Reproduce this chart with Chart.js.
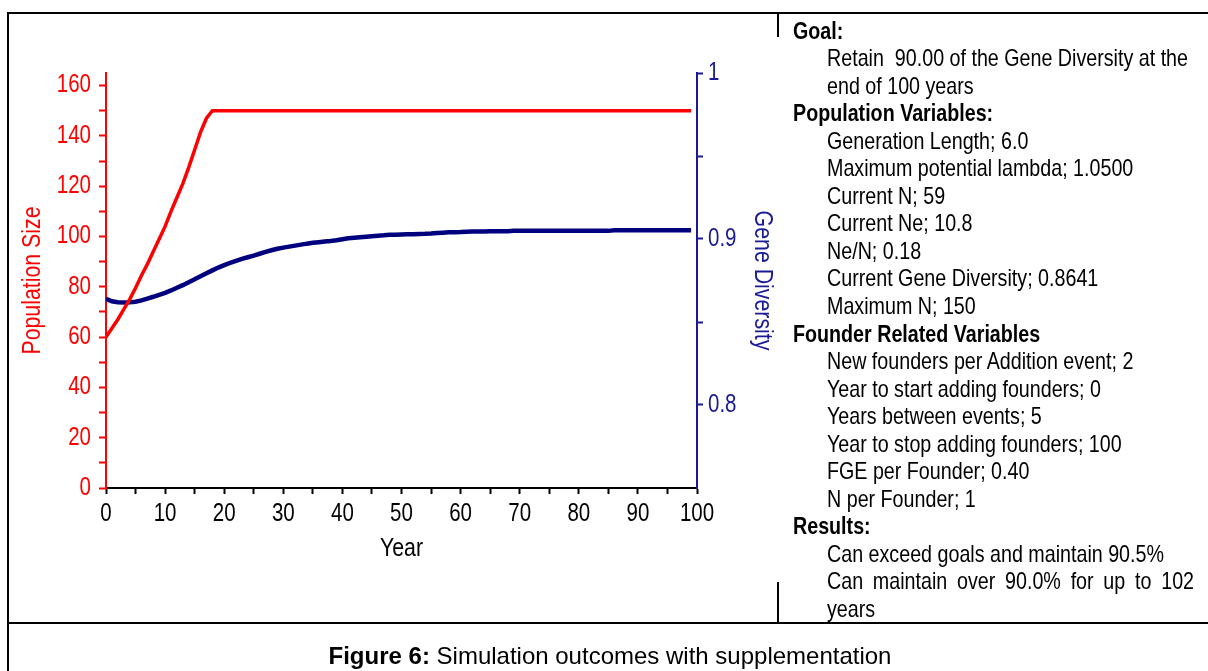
<!DOCTYPE html>
<html>
<head>
<meta charset="utf-8">
<script src="https://cdn.jsdelivr.net/npm/chart.js@4.4.1/dist/chart.umd.min.js"></script>
<style>
  html, body { margin: 0; padding: 0; background: #fff; }
  body { width: 1208px; height: 671px; position: relative; overflow: hidden;
         font-family: "Liberation Sans", Arial, sans-serif; color: #000; }
  .b { position: absolute; background: #000; }
  #chart { position: absolute; left: 0; top: 0; }
  .ln { position: absolute; font-size: 24px; line-height: 27.52px; white-space: nowrap;
        transform: scaleX(0.82); transform-origin: 0 0; }
  .h { left: 793px; font-weight: bold; }
  .i { left: 827px; }
  .j { width: 447.6px; text-align: justify; text-align-last: justify; white-space: normal; }
  #cap { position: absolute; left: 7px; width: 1206px; top: 642px; text-align: center; font-size: 24px; line-height: 27.52px; white-space: nowrap; }
</style>
</head>
<body>
<div class="b" style="left:7px;top:12px;width:1201px;height:2px"></div>
<div class="b" style="left:7px;top:12px;width:2px;height:659px"></div>
<div class="b" style="left:7px;top:622px;width:1201px;height:2px"></div>
<div class="b" style="left:777px;top:12px;width:2px;height:25px"></div>
<div class="b" style="left:777px;top:582px;width:2px;height:41px"></div>
<canvas id="chart" width="1208" height="671"></canvas>
<div id="panel"></div>
<div id="cap"><b>Figure 6:</b> Simulation outcomes with supplementation</div>
<script>
// ---- data ----
const years = [0,1,2,3,4,5,6,7,8,9,10,11,12,13,14,15,16,17,18,19,20,21,22,23,24,25,26,27,28,29,30,31,32,33,34,35,36,37,38,39,40,41,42,43,44,45,46,47,48,49,50,51,52,53,54,55,56,57,58,59,60,61,62,63,64,65,66,67,68,69,70,71,72,73,74,75,76,77,78,79,80,81,82,83,84,85,86,87,88,89,90,91,92,93,94,95,96,97,98,99];
const populationSize = [60,63.5,67,71,75,79.5,84.5,89,94,99,104,110,115.5,121,127.5,134.5,141.5,147,150,150,150,150,150,150,150,150,150,150,150,150,150,150,150,150,150,150,150,150,150,150,150,150,150,150,150,150,150,150,150,150,150,150,150,150,150,150,150,150,150,150,150,150,150,150,150,150,150,150,150,150,150,150,150,150,150,150,150,150,150,150,150,150,150,150,150,150,150,150,150,150,150,150,150,150,150,150,150,150,150,150];
const geneDiversity = [0.8640,0.8625,0.8619,0.8618,0.8619,0.8622,0.8630,0.8641,0.8652,0.8664,0.8676,0.8690,0.8706,0.8722,0.8740,0.8757,0.8775,0.8793,0.8811,0.8828,0.8843,0.8856,0.8868,0.8880,0.8890,0.8900,0.8911,0.8922,0.8932,0.8941,0.8948,0.8954,0.8960,0.8966,0.8972,0.8977,0.8981,0.8985,0.8988,0.8992,0.8998,0.9004,0.9008,0.9011,0.9014,0.9017,0.9020,0.9022,0.9025,0.9026,0.9027,0.9028,0.9029,0.9030,0.9031,0.9033,0.9036,0.9038,0.9040,0.9041,0.9042,0.9044,0.9045,0.9045,0.9045,0.9046,0.9046,0.9046,0.9046,0.9049,0.9049,0.9049,0.9049,0.9049,0.9049,0.9049,0.9049,0.9049,0.9049,0.9049,0.9049,0.9049,0.9049,0.9049,0.9049,0.9049,0.9053,0.9053,0.9053,0.9053,0.9053,0.9053,0.9053,0.9053,0.9053,0.9053,0.9053,0.9053,0.9053,0.9053];
const xTickLabels = [0,10,20,30,40,50,60,70,80,90,100];
const leftTickLabels = [0,20,40,60,80,100,120,140,160];
const rightTickLabels = ["0.8","0.9","1"];

const panelLines = [
  ["h","Goal:"],
  ["i","Retain&nbsp; 90.00 of the Gene Diversity at the"],
  ["i","end of 100 years"],
  ["h","Population Variables:"],
  ["i","Generation Length; 6.0"],
  ["i","Maximum potential lambda; 1.0500"],
  ["i","Current N; 59"],
  ["i","Current Ne; 10.8"],
  ["i","Ne/N; 0.18"],
  ["i","Current Gene Diversity; 0.8641"],
  ["i","Maximum N; 150"],
  ["h","Founder Related Variables"],
  ["i","New founders per Addition event; 2"],
  ["i","Year to start adding founders; 0"],
  ["i","Years between events; 5"],
  ["i","Year to stop adding founders; 100"],
  ["i","FGE per Founder; 0.40"],
  ["i","N per Founder; 1"],
  ["h","Results:"],
  ["i","Can exceed goals and maintain 90.5%"],
  ["i j","Can maintain over 90.0% for up to 102"],
  ["i","years"]
];

// ---- right text panel ----
const panel = document.getElementById('panel');
panelLines.forEach((l, k) => {
  const d = document.createElement('div');
  d.className = 'ln ' + l[0];
  d.style.top = (16.8 + 27.52 * k) + 'px';
  d.innerHTML = l[1];
  panel.appendChild(d);
});

// ---- narrow text on the canvas (Arial Narrow look) ----
const NARROW = 0.82;
const canvas = document.getElementById('chart');
const ctx2d = canvas.getContext('2d');
const origFill = ctx2d.fillText.bind(ctx2d);
ctx2d.fillText = function (t, x, y, mw) {
  this.save();
  this.translate(x, y);
  this.scale(NARROW, 1);
  if (mw === undefined) origFill(t, 0, 0); else origFill(t, 0, 0, mw / NARROW);
  this.restore();
};

// ---- chart ----
const FONT = '"Liberation Sans", Arial, sans-serif';
const RED = '#ff0000';
const BLUE = '#1a1a96';
const LINEBLUE = '#00007f';

new Chart(canvas, {
  type: 'line',
  data: {
    datasets: [
      { label: 'Population Size', data: years.map((x, k) => ({ x, y: populationSize[k] })),
        borderColor: RED, borderWidth: 3.5, pointRadius: 0, tension: 0, yAxisID: 'yL' },
      { label: 'Gene Diversity', data: years.map((x, k) => ({ x, y: geneDiversity[k] })),
        borderColor: LINEBLUE, borderWidth: 4.5, pointRadius: 0, tension: 0, yAxisID: 'yR' }
    ]
  },
  options: {
    responsive: false, animation: false, devicePixelRatio: 1,
    layout: { padding: { left: 0, top: 73, right: 411, bottom: 0 } },
    plugins: { legend: { display: false }, tooltip: { enabled: false } },
    scales: {
      x: {
        type: 'linear', min: 0, max: 100,
        afterFit: s => { s.height = 183; },
        grid: { drawOnChartArea: false, drawTicks: true, tickLength: 6, tickColor: '#000', tickWidth: 2 },
        border: { display: true, color: '#000', width: 2 },
        ticks: { stepSize: 5, autoSkip: false, maxRotation: 0, color: '#000', padding: 5,
                 font: { family: FONT, size: 25 },
                 callback: v => xTickLabels.includes(v) ? String(v) : '' },
        title: { display: true, text: 'Year', color: '#000', font: { family: FONT, size: 26 },
                 padding: { top: 0, bottom: 107 } }
      },
      yL: {
        type: 'linear', position: 'left', min: 0, max: 165,
        afterFit: s => { s.width = 106; },
        grid: { drawOnChartArea: false, drawTicks: true, tickLength: 7, tickColor: RED, tickWidth: 2 },
        border: { display: true, color: RED, width: 2 },
        ticks: { stepSize: 10, includeBounds: false, autoSkip: false, color: RED, padding: 8,
                 font: { family: FONT, size: 25 },
                 callback: v => leftTickLabels.includes(v) ? String(v) : '' },
        title: { display: true, text: 'Population Size', color: RED, font: { family: FONT, size: 26 },
                 padding: { top: 17.4, bottom: 0 } }
      },
      yR: {
        type: 'linear', position: 'right', min: 0.75, max: 1.0,
        afterFit: s => { s.width = 100; },
        grid: { drawOnChartArea: false, drawTicks: true, tickLength: 6, tickWidth: 2,
                tickColor: c => (c.tick && Math.round(c.tick.value * 100) === 75) ? 'rgba(0,0,0,0)' : BLUE },
        border: { display: true, color: BLUE, width: 2 },
        ticks: { stepSize: 0.05, includeBounds: false, autoSkip: false, color: BLUE, padding: 5,
                 font: { family: FONT, size: 25 },
                 callback: v => {
                   const s = String(Math.round(v * 100) / 100);
                   return rightTickLabels.includes(s) ? s : '';
                 } },
        title: { display: true, text: 'Gene Diversity', color: BLUE, font: { family: FONT, size: 26 },
                 padding: { top: 19.4, bottom: 0 } }
      }
    }
  }
});
</script>
</body>
</html>
